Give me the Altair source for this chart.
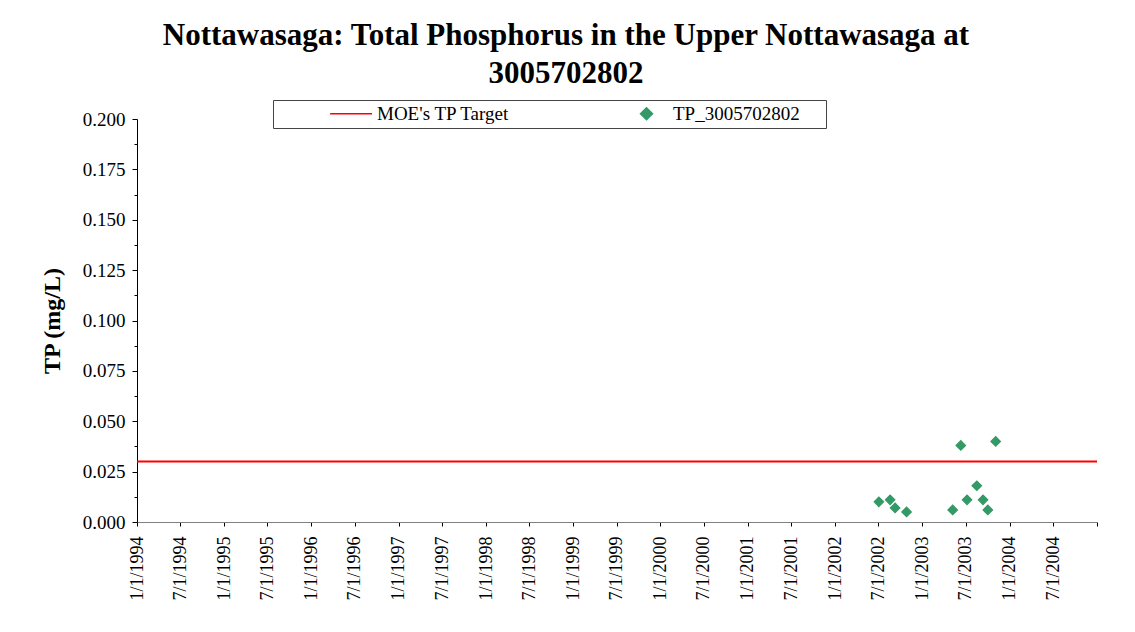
import altair as alt
import pandas as pd

# ---- data ----
sample_dates = ["2002-07-03", "2002-08-19", "2002-09-09", "2002-10-27",
                "2003-05-08", "2003-06-11", "2003-07-07", "2003-08-17",
                "2003-09-12", "2003-10-02", "2003-11-04"]
tp_values = [0.010, 0.011, 0.007, 0.005, 0.006, 0.038, 0.011, 0.018,
             0.011, 0.006, 0.040]
target_value = [0.03]
series_names = ["MOE's TP Target", "TP_3005702802"]
series_colors = ["#ff0000", "#339966"]
y_major = [0.0, 0.025, 0.05, 0.075, 0.1, 0.125, 0.15, 0.175, 0.2]
y_minor = [0.0125, 0.0375, 0.0625, 0.0875, 0.1125, 0.1375, 0.1625, 0.1875]
tick_years = list(range(1994, 2005))
title_lines = ["Nottawasaga: Total Phosphorus in the Upper Nottawasaga at", "3005702802"]

FONT = "Liberation Serif"

# symbol shapes: a short line for the target, a diamond for the samples
# (the trailing move-to only widens the legend frame; it draws nothing)
line_symbol = "M-3.4,0H3.6"
diamond_symbol = "M-1,0L0,-1L1,0L0,1ZM28.6,0"

pts = pd.DataFrame({
    "date": [d + "T00:00:00" for d in sample_dates],
    "tp": tp_values,
    "series": series_names[1],
})
tgt = pd.DataFrame({"tp": target_value, "series": series_names[0]})

x_ticks = []
for yr in tick_years:
    x_ticks.append(alt.DateTime(year=yr, month=1, date=1))
    x_ticks.append(alt.DateTime(year=yr, month=7, date=1))
x_ticks.append(alt.DateTime(year=2005, month=1, date=1))

x_scale = alt.Scale(domain=[alt.DateTime(year=1994, month=1, date=1),
                            alt.DateTime(year=2005, month=1, date=1)], nice=False)
y_scale = alt.Scale(domain=[0, 0.2], nice=False, zero=True)

legend = alt.Legend(
    title=" ", titleOrient="left", titleFontSize=18, titlePadding=64,
    orient="none", legendX=136, legendY=-19, direction="horizontal",
    columns=2, columnPadding=127, labelOffset=17, symbolSize=144,
    labelFont=FONT, labelFontSize=19, labelColor="#000000",
    strokeColor="#444444", fillColor="#ffffff", padding=4,
)

x_axis = alt.Axis(
    values=x_ticks, format="%-m/%-d/%Y", labelAngle=-90, labelPadding=10,
    labelFontSize=18, labelFont=FONT, labelColor="#000000",
    labelExpr="year(datum.value) >= 2005 ? '' : datum.label",
    tickSize=4, tickColor="#000000", domainColor="#808080", grid=False,
    title=None, labelOverlap=False, labelBound=False, labelFlush=False,
)
y_axis = alt.Axis(
    values=y_major, format=".3f", tickSize=5, tickColor="#000000",
    domainColor="#000000", labelFontSize=19, labelFont=FONT,
    labelColor="#000000", labelPadding=7, grid=False, orient="left",
    title="TP (mg/L)", titleFont=FONT, titleFontSize=24, titleFontWeight="bold",
    titleColor="#000000", titlePadding=18, labelOverlap=False,
)
y_minor_axis = alt.Axis(
    values=y_minor, tickSize=3, tickColor="#000000", labels=False,
    domain=False, grid=False, title=None, orient="left",
)

rule = alt.Chart(tgt).mark_rule(color="#ff0000", strokeWidth=2).encode(
    y=alt.Y("tp:Q", scale=y_scale, axis=y_minor_axis),
)

points = alt.Chart(pts).mark_point(
    filled=False, fill="#339966", fillOpacity=1, size=90, strokeWidth=1.2, opacity=1,
).encode(
    x=alt.X("date:T", scale=x_scale, axis=x_axis),
    y=alt.Y("tp:Q", scale=y_scale, axis=y_axis),
    color=alt.Color("series:N", scale=alt.Scale(domain=series_names, range=series_colors), legend=legend),
    shape=alt.Shape("series:N", scale=alt.Scale(domain=series_names, range=[line_symbol, diamond_symbol]), legend=legend),
)

chart = alt.layer(rule, points).resolve_axis(y="independent").properties(
    width=960, height=403,
    autosize=alt.AutoSizeParams(type="none"),
    padding={"left": 129, "top": 111, "right": 30, "bottom": 100},
    title=alt.TitleParams(
        text=title_lines, font=FONT, fontSize=31, fontWeight="bold",
        color="#000000", anchor="middle", frame="group", dx=-51,
        lineHeight=38, offset=10,
    ),
).configure_view(stroke="transparent", strokeWidth=0)

chart.save("out.html", embed_options={"renderer": "svg", "actions": False})
